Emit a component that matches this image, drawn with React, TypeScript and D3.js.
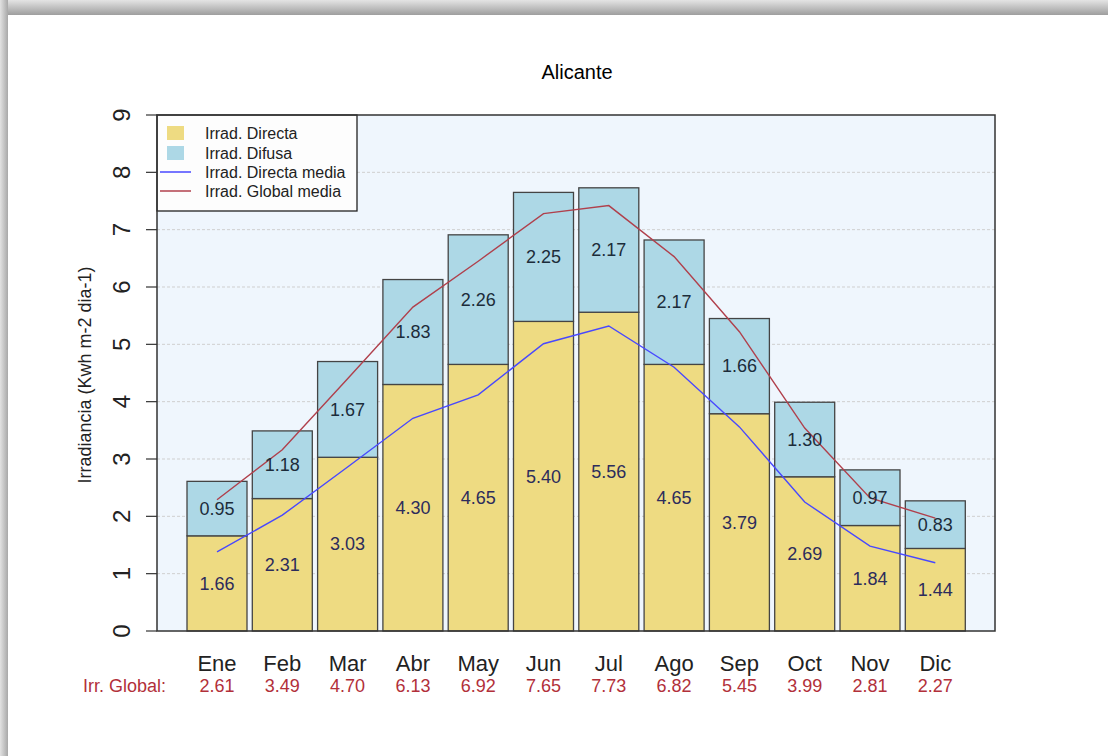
import React from "react";
import * as d3 from "d3";

const months = ["Ene", "Feb", "Mar", "Abr", "May", "Jun", "Jul", "Ago", "Sep", "Oct", "Nov", "Dic"];
const directa = [1.66, 2.31, 3.03, 4.30, 4.65, 5.40, 5.56, 4.65, 3.79, 2.69, 1.84, 1.44];
const difusa = [0.95, 1.18, 1.67, 1.83, 2.26, 2.25, 2.17, 2.17, 1.66, 1.30, 0.97, 0.83];
const globalVals = ["2.61", "3.49", "4.70", "6.13", "6.92", "7.65", "7.73", "6.82", "5.45", "3.99", "2.81", "2.27"];
const directaMedia = [1.38, 2.02, 2.86, 3.71, 4.12, 5.01, 5.32, 4.6, 3.56, 2.25, 1.48, 1.19];
const globalMedia = [2.29, 3.16, 4.40, 5.65, 6.45, 7.28, 7.42, 6.53, 5.22, 3.54, 2.32, 1.97];
const yTicks = [0, 1, 2, 3, 4, 5, 6, 7, 8, 9];

const W = 1108, H = 756;
const PL = 157, PR = 995, PT = 115, PB = 631;
const FONT = "'Liberation Sans', Arial, Helvetica, sans-serif";

const C_DIR = "#eedb82";
const C_DIF = "#add8e6";
const C_BLUE = "#4848ff";
const C_RED = "#b0404c";
const C_TXT_RED = "#b2303a";

export default function App() {
  const step = 65.3;
  const x = d3.scaleBand<string>()
    .domain(months)
    .range([184.35, 184.35 + 12 * step])
    .paddingInner(5.3 / step)
    .paddingOuter(5.3 / step / 2);
  const y = d3.scaleLinear().domain([0, 9]).range([PB, PT]);
  const cx = (m: string) => (x(m) as number) + x.bandwidth() / 2;

  const lineGen = d3.line<number>()
    .x((_, i) => cx(months[i]))
    .y((d) => y(d));

  return (
    <svg width={W} height={H} style={{ position: "absolute", left: 0, top: 0, display: "block" }}
      fontFamily={FONT}>
      <defs>
        <linearGradient id="topShadow" x1="0" y1="0" x2="0" y2="1">
          <stop offset="0" stopColor="#e4e4e4" />
          <stop offset="1" stopColor="#9e9e9e" />
        </linearGradient>
        <linearGradient id="leftShadow" x1="0" y1="0" x2="1" y2="0">
          <stop offset="0" stopColor="#e2e2e2" />
          <stop offset="1" stopColor="#a8a8a8" />
        </linearGradient>
      </defs>
      <rect x={0} y={0} width={W} height={H} fill="#ffffff" />
      <rect x={0} y={0} width={W} height={15} fill="url(#topShadow)" />
      <rect x={0} y={0} width={8} height={H} fill="url(#leftShadow)" />
      <rect x={8} y={15} width={W - 8} height={H - 15} fill="#ffffff" />

      {/* title */}
      <text x={577} y={79} textAnchor="middle" fontSize={20} fill="#000">Alicante</text>

      {/* plot background */}
      <rect x={PL} y={PT} width={PR - PL} height={PB - PT} fill="#eff6fd" />
      {yTicks.filter((t) => t > 0 && t < 9).map((t) => (
        <line key={"g" + t} x1={PL} x2={PR} y1={y(t)} y2={y(t)} stroke="#cfcfcf" strokeWidth={1}
          strokeDasharray="3,2" />
      ))}

      {/* bars */}
      {months.map((m, i) => (
        <g key={"b" + m}>
          <rect x={x(m)} y={y(directa[i])} width={x.bandwidth()} height={y(0) - y(directa[i])}
            fill={C_DIR} stroke="#444" strokeWidth={1.3} />
          <rect x={x(m)} y={y(directa[i] + difusa[i])} width={x.bandwidth()}
            height={y(directa[i]) - y(directa[i] + difusa[i])}
            fill={C_DIF} stroke="#444" strokeWidth={1.3} />
        </g>
      ))}

      {/* lines */}
      <path d={lineGen(directaMedia) || ""} fill="none" stroke={C_BLUE} strokeWidth={1.4} />
      <path d={lineGen(globalMedia) || ""} fill="none" stroke={C_RED} strokeWidth={1.4} />

      {/* bar labels */}
      {months.map((m, i) => (
        <g key={"l" + m} fontSize={18}>
          <text x={cx(m)} y={y(directa[i] / 2)} dy="0.35em" textAnchor="middle" fill="#2c2c5c">
            {directa[i].toFixed(2)}
          </text>
          <text x={cx(m)} y={y(directa[i] + difusa[i] / 2)} dy="0.35em" textAnchor="middle" fill="#1c2c3a">
            {difusa[i].toFixed(2)}
          </text>
        </g>
      ))}

      {/* legend */}
      <rect x={PL} y={PT} width={200} height={96} fill="#fdfdfd" stroke="#222" strokeWidth={1.3} />
      <rect x={167} y={126} width={17} height={14} fill={C_DIR} />
      <rect x={167} y={146} width={17} height={14} fill={C_DIF} />
      <line x1={160} x2={191} y1={172} y2={172} stroke={C_BLUE} strokeWidth={1.5} />
      <line x1={160} x2={191} y1={191} y2={191} stroke={C_RED} strokeWidth={1.5} />
      <g fontSize={16} fill="#222">
        <text x={205} y={133} dy="0.35em">Irrad. Directa</text>
        <text x={205} y={153} dy="0.35em">Irrad. Difusa</text>
        <text x={205} y={172} dy="0.35em">Irrad. Directa media</text>
        <text x={205} y={191} dy="0.35em">Irrad. Global media</text>
      </g>

      {/* plot box */}
      <rect x={PL} y={PT} width={PR - PL} height={PB - PT} fill="none" stroke="#333" strokeWidth={1.5} />

      {/* y axis */}
      {yTicks.map((t) => (
        <g key={"t" + t}>
          <line x1={PL - 11} x2={PL} y1={y(t)} y2={y(t)} stroke="#333" strokeWidth={1.2} />
          <text transform={`translate(${121},${y(t)}) rotate(-90)`} textAnchor="middle" dy="0.36em"
            fontSize={24} fill="#222">{t}</text>
        </g>
      ))}
      <text transform={`translate(85,${(PT + PB) / 2 + 2}) rotate(-90)`} textAnchor="middle" dy="0.35em"
        fontSize={18} fill="#222">Irradiancia (Kwh m-2 dia-1)</text>

      {/* month labels */}
      {months.map((m) => (
        <text key={"m" + m} x={cx(m)} y={671} textAnchor="middle" fontSize={22} fill="#222">{m}</text>
      ))}
      <text x={166} y={692} textAnchor="end" fontSize={18} fill={C_TXT_RED}>Irr. Global:</text>
      {months.map((m, i) => (
        <text key={"v" + m} x={cx(m)} y={692} textAnchor="middle" fontSize={18} fill={C_TXT_RED}>
          {globalVals[i]}
        </text>
      ))}
    </svg>
  );
}
